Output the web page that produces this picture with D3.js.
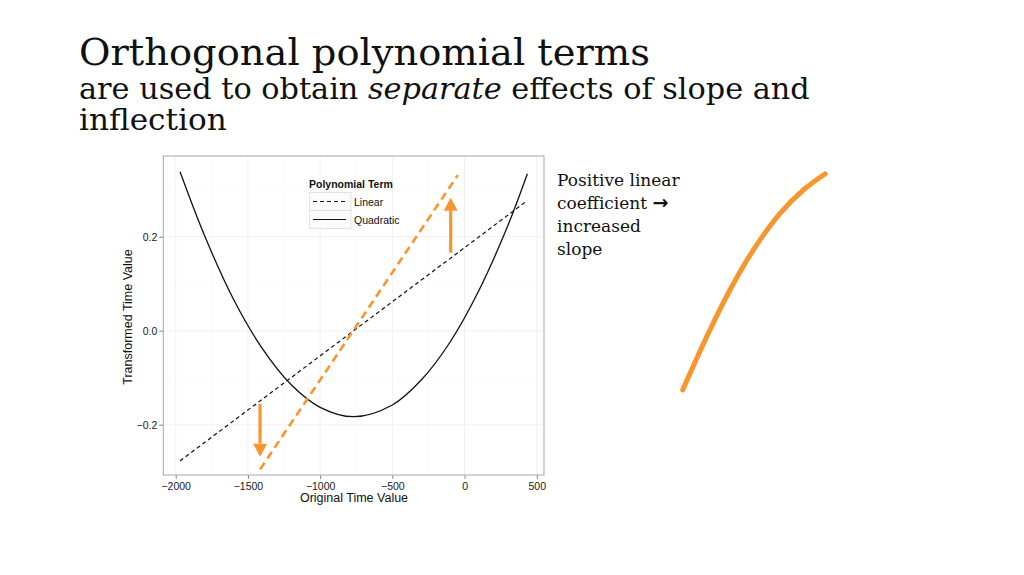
<!DOCTYPE html>
<html>
<head>
<meta charset="utf-8">
<script src="https://cdn.jsdelivr.net/npm/d3@7"></script>
<style>
  body { margin: 0; background: #fff; }
  svg { display: block; }
</style>
</head>
<body>
<svg id="slide" width="1024" height="575"></svg>
<script>
// values
const xTicks = [-2000, -1500, -1000, -500, 0, 500];
const yTicks = [-0.2, 0.0, 0.2];
const xMinor = [-1750, -1250, -750, -250, 250];
const yMinor = [-0.1, 0.1, 0.3];

const quadTime = [-1970, -1800, -1600, -1400, -1200, -1000, -765, -500, -300, -100, 100, 300, 435];
const quadValue = [0.338, 0.202, 0.067, -0.038, -0.115, -0.163, -0.183, -0.158, -0.105, -0.024, 0.086, 0.224, 0.334];

const linTime = [-1970, 435];
const linValue = [-0.277, 0.277];

const steepTime = [-1416, -47];
const steepValue = [-0.295, 0.331];

// arrows: [time, from, to]
const arrows = [[-1416, -0.156, -0.268], [-96, 0.166, 0.283]];

const legendLabels = ["Linear", "Quadratic"];
const legendDash = ["4,3", null];

// hand drawn curve on the right, in its own 0..1 box
const sketchX = [0, 0.169, 0.332, 0.496, 0.684, 0.848, 1];
const sketchY = [0, 0.247, 0.463, 0.648, 0.818, 0.926, 1];

const noteLines = ["Positive linear", "coefficient ", "increased", "slope"];

const orange = "#f7962e";
const svg = d3.select("#slide");

// fit a text element to a width by squeezing it sideways
let fitWidth = (sel, x, w) => {
    let bw = sel.node().getBBox().width;
    sel.attr("transform", `translate(${x},0) scale(${w / bw},1) translate(${-x},0)`);
};

// headings
let serif = "'DejaVu Serif Condensed', 'DejaVu Serif', 'Liberation Serif', serif";
let t1 = svg.append("text").attr("x", 79).attr("y", 65)
    .style("font-family", serif).style("font-stretch", "condensed")
    .style("font-size", "37px").attr("fill", "#111")
    .text("Orthogonal polynomial terms");
fitWidth(t1, 79, 571);

let t2 = svg.append("text").attr("x", 79).attr("y", 99)
    .style("font-family", serif).style("font-stretch", "condensed")
    .style("font-size", "29px").attr("fill", "#111");
t2.append("tspan").text("are used to obtain ");
t2.append("tspan").style("font-style", "italic").text("separate");
t2.append("tspan").text(" effects of slope and");
fitWidth(t2, 79, 731);

let t3 = svg.append("text").attr("x", 79).attr("y", 130)
    .style("font-family", serif).style("font-stretch", "condensed")
    .style("font-size", "29px").attr("fill", "#111")
    .text("inflection");
fitWidth(t3, 79, 148);

// chart
let x = d3.scaleLinear().domain([-2086, 550]).range([163.3, 544]);
let y = d3.scaleLinear().domain([-0.307, 0.3717]).range([475, 156]);

let chart = svg.append("g");
chart.selectAll("line.minx").data(xMinor).enter().append("line")
    .attr("x1", d => x(d)).attr("x2", d => x(d))
    .attr("y1", y.range()[0]).attr("y2", y.range()[1])
    .attr("stroke", "#f8f8f8").attr("stroke-width", 0.6);
chart.selectAll("line.miny").data(yMinor).enter().append("line")
    .attr("y1", d => y(d)).attr("y2", d => y(d))
    .attr("x1", x.range()[0]).attr("x2", x.range()[1])
    .attr("stroke", "#f8f8f8").attr("stroke-width", 0.6);
chart.selectAll("line.gx").data(xTicks).enter().append("line")
    .attr("x1", d => x(d)).attr("x2", d => x(d))
    .attr("y1", y.range()[0]).attr("y2", y.range()[1])
    .attr("stroke", "#f1f1f1").attr("stroke-width", 1);
chart.selectAll("line.gy").data(yTicks).enter().append("line")
    .attr("y1", d => y(d)).attr("y2", d => y(d))
    .attr("x1", x.range()[0]).attr("x2", x.range()[1])
    .attr("stroke", "#f1f1f1").attr("stroke-width", 1);

let fmtX = d => (d < 0 ? "\u2212" + Math.abs(d) : "" + d);
let fmtY = d => (d < 0 ? "\u2212" + Math.abs(d).toFixed(1) : d.toFixed(1));

let xAxis = chart.append("g").attr("transform", `translate(0,${y.range()[0]})`)
    .call(d3.axisBottom(x).tickValues(xTicks).tickFormat(fmtX).tickSize(4).tickSizeOuter(0));
let yAxis = chart.append("g").attr("transform", `translate(${x.range()[0]},0)`)
    .call(d3.axisLeft(y).tickValues(yTicks).tickFormat(fmtY).tickSize(4).tickSizeOuter(0));
[xAxis, yAxis].forEach(a => {
    a.select(".domain").remove();
    a.selectAll(".tick line").attr("stroke", "#888");
    a.selectAll(".tick text").attr("fill", "#1a1a1a")
        .style("font-family", "'Liberation Sans', Arial, sans-serif").style("font-size", "10.5px");
});
xAxis.selectAll(".tick text").attr("dy", "0.75em").attr("y", 7);
yAxis.selectAll(".tick text").attr("x", -6);

chart.append("rect")
    .attr("x", x.range()[0]).attr("y", y.range()[1])
    .attr("width", x.range()[1] - x.range()[0]).attr("height", y.range()[0] - y.range()[1])
    .attr("fill", "none").attr("stroke", "#a8a8a8").attr("stroke-width", 1);

chart.append("text").attr("x", 354).attr("y", 502).attr("text-anchor", "middle")
    .style("font-family", "'Liberation Sans', Arial, sans-serif").style("font-size", "12.5px")
    .attr("fill", "#111").text("Original Time Value");
chart.append("text").attr("transform", "translate(132,317) rotate(-90)").attr("text-anchor", "middle")
    .style("font-family", "'Liberation Sans', Arial, sans-serif").style("font-size", "12.5px")
    .attr("fill", "#111").text("Transformed Time Value");

let line = d3.line().x(d => x(d[0])).y(d => y(d[1]));

chart.append("path").datum(d3.zip(quadTime, quadValue))
    .attr("d", line.curve(d3.curveCatmullRom.alpha(0.5)))
    .attr("fill", "none").attr("stroke", "#111").attr("stroke-width", 1.3);
line.curve(d3.curveLinear);
chart.append("path").datum(d3.zip(linTime, linValue))
    .attr("d", line).attr("fill", "none").attr("stroke", "#111")
    .attr("stroke-width", 1.2).attr("stroke-dasharray", "4,3");
chart.append("path").datum(d3.zip(steepTime, steepValue))
    .attr("d", line).attr("fill", "none").attr("stroke", orange)
    .attr("stroke-width", 2.6).attr("stroke-dasharray", "8,5");

// orange arrows
arrows.forEach(a => {
    let ax = x(a[0]), y0 = y(a[1]), y1 = y(a[2]);
    let dir = y1 > y0 ? 1 : -1;
    let head = 13;
    chart.append("line").attr("x1", ax).attr("x2", ax)
        .attr("y1", y0).attr("y2", y1 - dir * head)
        .attr("stroke", orange).attr("stroke-width", 3.2);
    chart.append("path")
        .attr("d", `M${ax - 7},${y1 - dir * head} L${ax + 7},${y1 - dir * head} L${ax},${y1} Z`)
        .attr("fill", orange);
});

// legend
let lg = chart.append("g");
lg.append("text").attr("x", 309).attr("y", 188)
    .style("font-family", "'Liberation Sans', Arial, sans-serif").style("font-size", "10.5px")
    .style("font-weight", "bold").attr("fill", "#111").text("Polynomial Term");
legendLabels.forEach((lab, i) => {
    let top = 192.5 + i * 18;
    lg.append("rect").attr("x", 309.5).attr("y", top).attr("width", 41.5).attr("height", 18)
        .attr("fill", "#fbfbfb").attr("stroke", "#dcdcdc").attr("stroke-width", 0.8);
    lg.append("line").attr("x1", 313).attr("x2", 346).attr("y1", top + 9).attr("y2", top + 9)
        .attr("stroke", "#111").attr("stroke-width", 1.2)
        .attr("stroke-dasharray", legendDash[i]);
    lg.append("text").attr("x", 354).attr("y", top + 13)
        .style("font-family", "'Liberation Sans', Arial, sans-serif").style("font-size", "10.5px")
        .attr("fill", "#111").text(lab);
});

// note text on the right
let note = svg.append("g");
noteLines.forEach((s, i) => {
    let t = note.append("text").attr("x", 557).attr("y", 186 + i * 23)
        .style("font-family", "'DejaVu Serif', serif").style("font-size", "17px").attr("fill", "#111");
    t.append("tspan").text(s);
    if (i == 1) {
        t.append("tspan").style("font-family", "'DejaVu Sans', sans-serif")
            .style("font-weight", "bold").style("font-size", "19px").text("\u2192");
    }
});

// hand drawn curve
let sx = d3.scaleLinear().domain([0, 1]).range([682.7, 825]);
let sy = d3.scaleLinear().domain([0, 1]).range([390, 174]);
svg.append("path").datum(d3.zip(sketchX, sketchY))
    .attr("d", d3.line().x(d => sx(d[0])).y(d => sy(d[1])).curve(d3.curveCatmullRom.alpha(0.5)))
    .attr("fill", "none").attr("stroke", orange).attr("stroke-width", 5)
    .attr("stroke-linecap", "round");
</script>
</body>
</html>
